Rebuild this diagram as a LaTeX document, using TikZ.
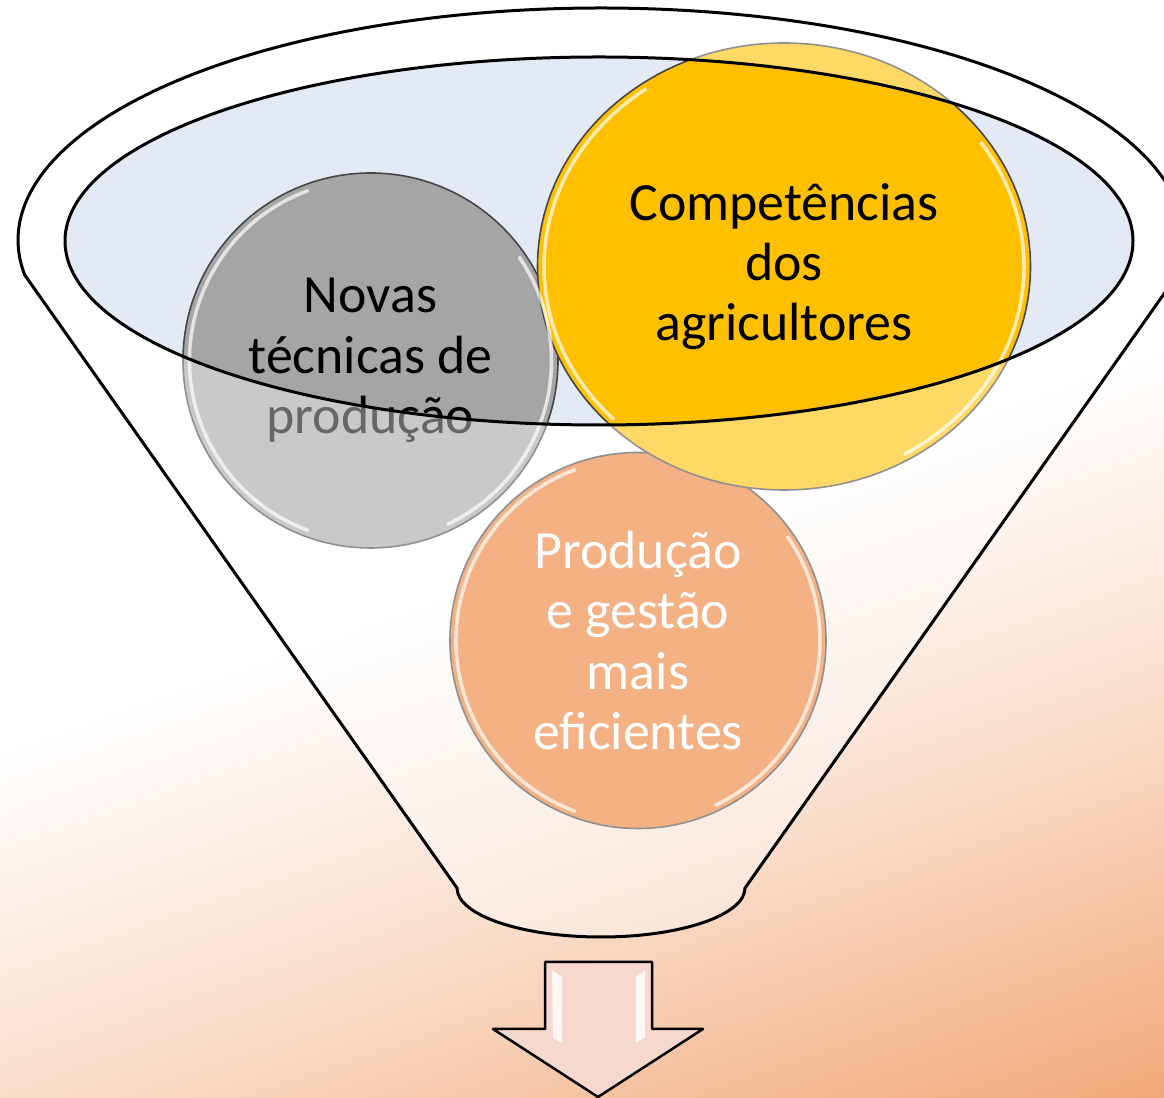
\documentclass[tikz,border=0pt]{standalone}
\usepackage{fontspec}
\setmainfont{Carlito}
\usepackage{tikz}
\usetikzlibrary{shapes}

\definecolor{bgorange}{RGB}{241,168,120}
\definecolor{mouthblue}{RGB}{228,234,245}
\definecolor{novasgray}{RGB}{165,165,165}
\definecolor{compyellow}{RGB}{255,192,0}
\definecolor{prodorange}{RGB}{237,125,49}
\definecolor{rimgray}{RGB}{70,70,70}
\definecolor{arrowpink}{RGB}{247,216,206}
\pgfdeclareverticalshading{bggrad}{100bp}{color(0bp)=(bgorange); color(18bp)=(bgorange); color(36bp)=(bgorange!35!white); color(50bp)=(white); color(100bp)=(white)}

\begin{document}
\begin{tikzpicture}[join=round]
 \tikzstyle{bubble}=[circle, draw=rimgray, line width=1.6bp, inner sep=0pt, align=center, font=\fontsize{54}{60.5}\selectfont]
 \tikzstyle{gloss}=[white, opacity=0.7, line width=3.5bp]
 \tikzstyle{funnel}=[draw=black, line width=3bp, fill=white, fill opacity=0.4, even odd rule]
 \tikzstyle{arrowbox}=[draw=black, line width=2.5bp, fill=arrowpink]

 \useasboundingbox (0,0) rectangle (1164bp,1098bp);
 \shade[shading=bggrad, shading angle=19] (0,0) rectangle (1164bp,1098bp);

 \node (mouth) at (599bp,857bp) [ellipse, fill=mouthblue, minimum width=1068bp, minimum height=368bp, inner sep=0pt] {};

 \node (novas) at (370.5bp,737.5bp) [bubble, fill=novasgray, minimum size=375bp] {Novas\\técnicas de\\produção};
 \node (prod) at (638bp,457.5bp) [bubble, fill=prodorange, minimum size=376bp, text=white] {Produção\\e gestão\\mais\\eficientes};
 \node (comp) at (784bp,831.5bp) [bubble, ellipse, fill=compyellow, minimum width=493bp, minimum height=447bp] {Competências\\dos\\agricultores};

 \foreach \n/\r in {novas/181,prod/182} {
  \draw[gloss] (\n.center) ++(110:\r bp) arc[start angle=110, end angle=250, radius=\r bp];
  \draw[gloss] (\n.center) ++(-65:\r bp) arc[start angle=-65, end angle=35, radius=\r bp];
 }
 \draw[gloss] (comp.center) ++(125:240bp and 217bp) arc[start angle=125, end angle=225, x radius=240bp, y radius=217bp];
 \draw[gloss] (comp.center) ++(-60:240bp and 217bp) arc[start angle=-60, end angle=35, x radius=240bp, y radius=217bp];

 % funnel body, the mouth is left open
 \path[funnel] (1177.3bp,823bp) arc[start angle=-8.68, end angle=188.68, x radius=583bp, y radius=232bp]
   -- (457bp,210bp) arc[start angle=180, end angle=360, x radius=144bp, y radius=49bp] -- cycle
   (mouth.center) ellipse (534bp and 184bp);

 \draw[arrowbox] (545bp,136bp) -- (652bp,136bp) -- (652bp,69bp) -- (703bp,69bp) -- (598bp,1bp)
   -- (493bp,69bp) -- (545bp,69bp) -- cycle;
 \fill[white, opacity=0.8] (552bp,128bp) -- (562bp,121bp) -- (562bp,55bp) -- (553bp,60bp) -- cycle;
 \fill[white, opacity=0.8] (645bp,128bp) -- (636bp,121bp) -- (636bp,55bp) -- (645bp,61bp) -- cycle;
\end{tikzpicture}
\end{document}
